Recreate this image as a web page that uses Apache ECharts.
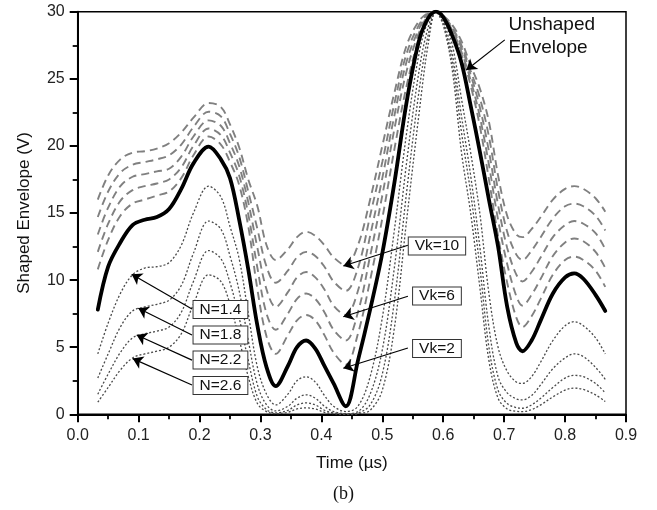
<!DOCTYPE html>
<html>
<head>
<meta charset="utf-8">
<script src="https://cdn.jsdelivr.net/npm/echarts@6/dist/echarts.min.js"></script>
<style>html,body{margin:0;padding:0;background:#fff;}#c{width:657px;height:510px;}</style>
</head>
<body>
<div id="c"></div>
<script>
const time = [0.033,0.05,0.07,0.09,0.11,0.13,0.15,0.17,0.19,0.215,0.235,0.25,0.265,0.28,0.295,0.31,0.325,0.345,0.36,0.375,0.39,0.405,0.42,0.44,0.46,0.48,0.5,0.52,0.54,0.56,0.575,0.588,0.6,0.615,0.63,0.645,0.66,0.675,0.69,0.705,0.72,0.73,0.745,0.76,0.78,0.8,0.815,0.83,0.85,0.866];
const unshaped = [7.8,11.0,12.8,14.1,14.5,14.7,15.3,16.8,18.7, 19.95,19.0,17.6,14.5,10.8,6.6,3.5, 2.1,3.6,5.0,5.5,4.9,3.6,2.3,0.6, 4.0,7.8,12.0,17.3,23.3,27.8,29.5,30, 29.6,28.2,26.2,23.0,19.6,16.0,12.5,8.0,5.3,4.7, 5.5,7.0,9.0,10.2,10.5,10.1,8.9,7.7];
const vk10 = [16.0,17.8,19.0,19.5,19.6,19.8,20.2,21.0,22.1, 23.2,22.9,21.6,19.9,17.5,15.5,12.6, 11.5,12.3,13.2,13.6,13.3,12.6,11.7,11.1, 12.6,16.0,20.0,24.0,27.5,29.3,29.9,30, 29.7,29.0,27.8,26.0,24.3,21.8,17.8,14.8,13.4,13.2, 13.8,14.7,16.0,16.8,17.0,16.8,16.1,15.1];
const vk8 = [14.7,16.6,18.0,18.6,18.8,19.0,19.3,20.1,21.4, 22.55,22.2,20.9,19.2,16.6,13.8,11.0, 9.8,10.7,11.7,12.1,11.8,11.0,9.9,9.2, 10.9,14.8,18.8,23.2,26.9,29.0,29.85,30, 29.7,28.8,27.5,25.6,23.6,20.7,16.7,13.6,11.9,11.5, 12.2,13.2,14.6,15.5,15.7,15.5,14.8,13.7];
const vk6 = [13.4,15.4,17.0,17.7,17.9,18.1,18.3,19.2,20.7, 21.9,21.5,20.2,18.5,15.8,12.4,9.3, 8.0,9.1,10.2,10.6,10.2,9.3,8.1,7.4, 9.2,13.3,17.6,22.3,26.3,28.7,29.8,30, 29.6,28.7,27.3,25.3,22.9,19.6,15.6,12.4,10.4,9.9, 10.6,11.7,13.2,14.1,14.4,14.2,13.5,12.3];
const vk4 = [12.1,14.2,15.9,16.7,17.0,17.2,17.5,18.4,20.0, 21.3,20.8,19.5,17.8,14.9,10.9,7.5, 6.3,7.5,8.6,9.0,8.6,7.6,6.3,5.5, 7.6,11.8,16.3,21.3,25.6,28.4,29.7,30, 29.6,28.6,27.0,24.9,22.2,18.6,14.5,11.2,8.8,8.1, 8.9,10.1,11.8,12.8,13.1,12.9,12.1,10.9];
const vk2 = [10.8,13.0,14.8,15.7,16.0,16.3,16.6,17.6,19.3, 20.7,20.1,18.8,17.1,14.0,9.3,5.8, 4.5,5.9,7.0,7.4,7.0,5.9,4.6,3.7, 6.0,10.0,14.6,19.8,24.5,28.0,29.6,30, 29.6,28.5,26.8,24.5,21.5,17.5,13.3,9.8,7.2,6.5, 7.3,8.6,10.4,11.5,11.75,11.5,10.7,9.5];
const n14 = [4.5,6.8,9.0,10.4,10.9,11.0,11.3,12.6,15.0, 17.0,16.2,14.0,11.6,7.5,3.5,1.5, 0.7,1.5,2.5,2.8,2.4,1.4,0.6,0.2, 0.6,2.8,7.2,13.8,21.0,26.8,29.3,30, 29.5,27.5,23.5,19.5,15.0,9.0,5.0,3.2,2.4,2.3, 2.8,3.9,5.5,6.6,6.9,6.6,5.7,4.5];
const n18 = [2.7,4.5,6.5,7.7,8.0,8.2,8.5,9.6,12.0, 14.4,13.8,11.8,9.2,5.5,2.2,0.7, 0.25,0.6,1.2,1.45,1.2,0.6,0.2,0.05, 0.2,1.5,4.8,11.0,18.8,25.5,28.8,30, 29.3,26.8,22.2,17.8,12.5,6.5,2.8,1.6,1.15,1.07, 1.4,2.2,3.4,4.2,4.5,4.3,3.5,2.6];
const n22 = [1.5,3.0,4.6,5.7,6.0,6.2,6.5,7.6,9.9, 12.2,11.6,9.8,7.2,4.0,1.3,0.35, 0.1,0.3,0.7,0.85,0.7,0.3,0.1,0.0, 0.1,0.7,3.0,8.5,16.6,24.0,28.2,30, 29.1,26.2,21.0,16.5,11.0,5.0,1.8,0.8,0.5,0.45, 0.7,1.2,2.0,2.7,2.9,2.8,2.3,1.6];
const n26 = [0.9,2.0,3.3,4.2,4.5,4.7,5.0,6.0,8.2, 10.4,9.9,8.2,5.6,2.8,0.8,0.2, 0.05,0.15,0.4,0.48,0.4,0.15,0.05,0.0, 0.05,0.3,1.8,6.5,14.5,22.3,27.5,30, 29.0,25.6,19.5,15.0,9.5,4.0,1.2,0.4,0.22,0.2, 0.35,0.7,1.3,1.8,1.95,1.85,1.45,0.95];
const xTicks = [0.0,0.1,0.2,0.3,0.4,0.5,0.6,0.7,0.8,0.9];
const yTicks = [0,5,10,15,20,25,30];

const pairs = v => time.map((t, i) => [t, v[i]]);
const font = '"Liberation Sans", Arial, sans-serif';

const dashedSeries = [vk10, vk8, vk6, vk4, vk2].map((v, i) => ({
  type: 'line', name: 'Vk' + (10 - 2 * i), data: pairs(v), showSymbol: false, smooth: 0.35,
  lineStyle: { color: '#808080', width: 1.9, type: [8, 5] }, z: 2, silent: true
}));
const dottedSeries = [n14, n18, n22, n26].map((v, i) => ({
  type: 'line', name: 'N' + i, data: pairs(v), showSymbol: false, smooth: 0.35,
  lineStyle: { color: '#4a4a4a', width: 1.3, type: [2, 2] }, z: 3, silent: true
}));

const boxLabel = { show: true, position: 'inside', formatter: p => p.name, color: '#111', fontSize: 15.5, fontFamily: font,
  backgroundColor: '#fff', borderColor: '#333', borderWidth: 1, padding: [1, 6, 0, 6], lineHeight: 16 };
const arrows = [
  [[0.1876, 7.85], [0.0886, 10.43]],
  [[0.1876, 5.91], [0.0995, 7.90]],
  [[0.1876, 4.04], [0.0968, 5.91]],
  [[0.1876, 2.18], [0.0903, 4.15]],
  [[0.542, 12.6], [0.436, 11.05]],
  [[0.542, 8.8], [0.436, 7.27]],
  [[0.542, 4.94], [0.436, 3.43]],
  [[0.701, 27.9], [0.638, 25.66]]
];
const boxes = [
  ['N=1.4', 0.2343, 7.81], ['N=1.8', 0.2343, 5.91], ['N=2.2', 0.2343, 4.04], ['N=2.6', 0.2343, 2.14],
  ['Vk=10', 0.5897, 12.54], ['Vk=6', 0.5897, 8.81], ['Vk=2', 0.5897, 4.90]
];

const annot = {
  type: 'line', data: [], silent: true, z: 10,
  markLine: {
    silent: true, animation: false, symbol: ['none', 'arrow'], symbolSize: 10,
    label: { show: false }, lineStyle: { color: '#000', width: 1.2, type: 'solid' },
    data: arrows.map(a => [{ coord: a[0] }, { coord: a[1] }])
  },
  markPoint: {
    silent: true, animation: false, symbol: 'rect', symbolSize: 1, itemStyle: { color: 'rgba(0,0,0,0)' },
    data: boxes.map(b => ({ name: b[0], coord: [b[1], b[2]], label: boxLabel })).concat([
      { name: 'Unshaped\nEnvelope', coord: [0.7062, 28.19],
        label: { show: true, position: 'right', distance: 0, formatter: p => p.name, color: '#111', fontSize: 19, lineHeight: 23, fontFamily: font, align: 'left' } }
    ])
  }
};

const chart = echarts.init(document.getElementById('c'), null, { renderer: 'canvas' });
chart.setOption({
  animation: false,
  backgroundColor: '#fff',
  grid: { left: 77.7, right: 31, top: 11.7, bottom: 95.7, show: true, borderColor: '#000', borderWidth: 1.5 },
  xAxis: {
    type: 'value', min: 0, max: 0.9, interval: 0.1,
    name: 'Time (µs)', nameLocation: 'middle', nameGap: 41,
    nameTextStyle: { fontSize: 17, color: '#111', fontFamily: font },
    axisLine: { show: true, lineStyle: { color: '#000', width: 2 } },
    axisTick: { show: true, inside: false, length: 8, lineStyle: { color: '#000', width: 2 } },
    minorTick: { show: true, splitNumber: 2, length: 5, lineStyle: { color: '#000', width: 1.8 } },
    splitLine: { show: false },
    axisLabel: { fontSize: 16, color: '#222', margin: 13, fontFamily: font, formatter: v => xTicks.find(t => Math.abs(t - v) < 1e-9).toFixed(1) }
  },
  yAxis: {
    type: 'value', min: 0, max: 30, interval: 5,
    name: 'Shaped Envelope (V)', nameLocation: 'middle', nameGap: 45,
    nameTextStyle: { fontSize: 17, color: '#111', fontFamily: font },
    axisLine: { show: true, lineStyle: { color: '#000', width: 2 } },
    axisTick: { show: true, inside: false, length: 8, lineStyle: { color: '#000', width: 2 } },
    minorTick: { show: true, splitNumber: 2, length: 5, lineStyle: { color: '#000', width: 1.8 } },
    splitLine: { show: false },
    axisLabel: { fontSize: 16, color: '#222', margin: 13, fontFamily: font, formatter: v => String(yTicks.find(t => t === v)) }
  },
  series: dashedSeries.concat(dottedSeries).concat([
    { type: 'line', name: 'Unshaped', data: pairs(unshaped), showSymbol: false, smooth: 0.35,
      lineStyle: { color: '#000', width: 3.8, cap: 'round', join: 'round' }, z: 5, silent: true },
    annot
  ]),
  graphic: [
    { type: 'text', left: 333, top: 485, style: { text: '(b)', font: '18px "Liberation Serif", "Times New Roman", serif', fill: '#111' } }
  ]
});
</script>
</body>
</html>
